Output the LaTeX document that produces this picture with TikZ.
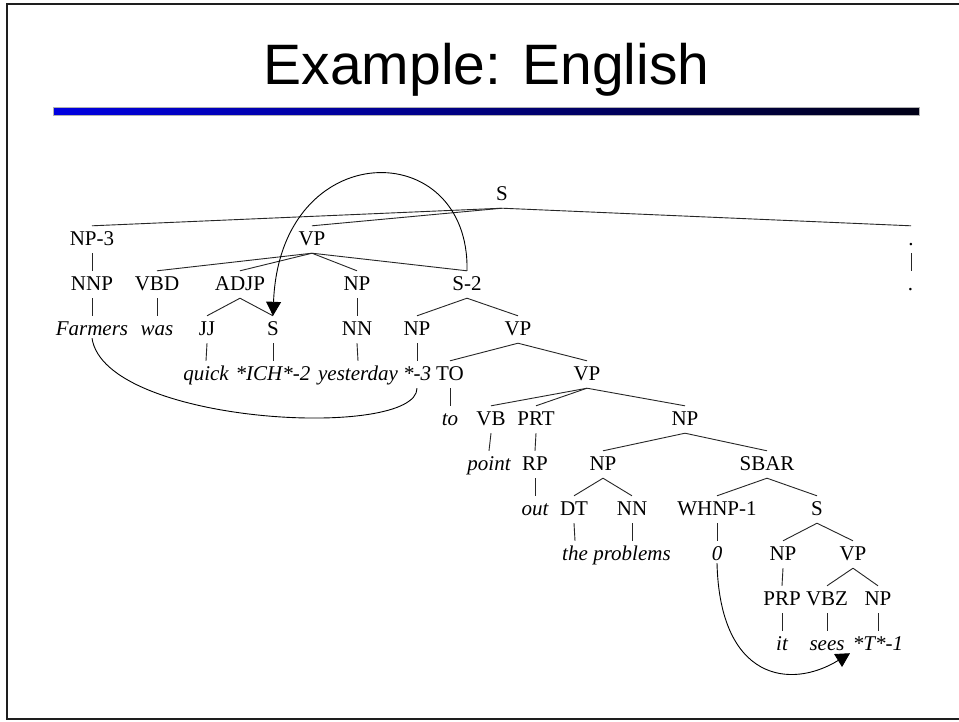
\documentclass[tikz,border=0pt]{standalone}
\usepackage{fontspec}
\setmainfont{Liberation Serif}
\newfontfamily\titlefont{Liberation Sans}
\usetikzlibrary{arrows.meta}
\definecolor{barblue}{RGB}{0,0,225}
\definecolor{bardark}{RGB}{0,0,22}
\definecolor{framegray}{RGB}{30,30,30}

\begin{document}
\begin{tikzpicture}[x=1pt,y=-1pt,
  lab/.style={anchor=base, inner sep=0pt, text height=19pt, text depth=8pt,
              font=\fontsize{21}{24}\selectfont},
  tag/.style={lab},
  word/.style={lab, font=\fontsize{21}{24}\selectfont\itshape},
  branch/.style={line width=0.9pt, black!85},
  trace/.style={line width=0.9pt, black},
  tip/.style={-{Triangle[length=14pt,width=15pt]}}]

% page, frame and title bar
\useasboundingbox (0,0) rectangle (959,721);
\fill[white] (0,0) rectangle (959,721);
\draw[framegray, line width=2.5pt] (962,4) -- (7,4) -- (7,719) -- (962,719);
\shadedraw[left color=barblue, right color=bardark, draw=gray!60, line width=0.6pt]
  (53,107) rectangle (919,115);
\node[anchor=base, inner sep=0pt] (title) at (486.5,84)
  {\titlefont\fontsize{57}{60}\selectfont Example: English};

% tree labels
\node[tag] (S) at (502,200) {S};
\node[tag] (np3) at (92,245) {NP-3};
\node[tag] (vp1) at (312,245) {VP};
\node[tag] (pt1) at (911,245) {.};
\node[tag] (nnp) at (92,290) {NNP};
\node[tag] (vbd) at (157,290) {VBD};
\node[tag] (adjp) at (240,290) {ADJP};
\node[tag] (np2) at (357,290) {NP};
\node[tag] (s2) at (467,290) {S-2};
\node[word] (pt2) at (911,290) {.};
\node[word] (farmers) at (92,335) {Farmers};
\node[word] (was) at (157,335) {was};
\node[tag] (jj) at (207,335) {JJ};
\node[tag] (s3) at (273,335) {S};
\node[tag] (nn3) at (357,335) {NN};
\node[tag] (npb) at (417,335) {NP};
\node[tag] (vp3) at (518,335) {VP};
\node[word] (quick) at (206,380) {quick};
\node[word] (ich) at (273,380) {*ICH*-2};
\node[word] (yesterday) at (358,380) {yesterday};
\node[word] (trace3) at (417,380) {*-3};
\node[tag] (to) at (450,380) {TO};
\node[tag] (vp4) at (587,380) {VP};
\node[word] (toword) at (450,425) {to};
\node[tag] (vb) at (491,425) {VB};
\node[tag] (prt) at (536,425) {PRT};
\node[tag] (np5) at (685,425) {NP};
\node[word] (point) at (489,470) {point};
\node[tag] (rp) at (535,470) {RP};
\node[tag] (np6) at (603,470) {NP};
\node[tag] (sbar) at (767,470) {SBAR};
\node[word] (out) at (535,515) {out};
\node[tag] (dt) at (574,515) {DT};
\node[tag] (nn7) at (632,515) {NN};
\node[tag] (whnp) at (717,515) {WHNP-1};
\node[tag] (s7) at (817,515) {S};
\node[word] (the) at (575,560) {the};
\node[word] (problems) at (632,560) {problems};
\node[word] (zero) at (717,560) {0};
\node[tag] (np8) at (783,560) {NP};
\node[tag] (vp8) at (853,560) {VP};
\node[tag] (prp) at (782,605) {PRP};
\node[tag] (vbz) at (827,605) {VBZ};
\node[tag] (np9) at (878,605) {NP};
\node[word] (it) at (782,650) {it};
\node[word] (sees) at (827,650) {sees};
\node[word] (tstar) at (878,650) {*T*-1};

% tree branches
\foreach \a/\b in {S/np3, S/vp1, S/pt1, pt1/pt2,
  np3/nnp, nnp/farmers,
  vp1/vbd, vp1/adjp, vp1/np2, vp1/s2,
  vbd/was, adjp/jj, adjp/s3, jj/quick, s3/ich,
  np2/nn3, nn3/yesterday,
  s2/npb, s2/vp3, npb/trace3,
  vp3/to, vp3/vp4, to/toword,
  vp4/vb, vp4/prt, vp4/np5,
  vb/point, prt/rp, rp/out,
  np5/np6, np5/sbar,
  np6/dt, np6/nn7, dt/the, nn7/problems,
  sbar/whnp, sbar/s7, whnp/zero,
  s7/np8, s7/vp8, np8/prp, prp/it,
  vp8/vbz, vp8/np9, vbz/sees, np9/tstar}
  \draw[branch] (\a.south) -- (\b.north);

% coindexation links
\draw[trace, tip] (s2.north) .. controls (470,135) and (280,135) .. (s3.north);
\draw[trace] ([yshift=5pt]farmers.south) .. controls (105,425) and (417,440) .. (trace3.south);
\draw[trace, tip] ([yshift=5pt]zero.south) .. controls (720,680) and (790,690)
  .. ([xshift=-28pt,yshift=5pt]tstar.south);
\end{tikzpicture}
\end{document}
